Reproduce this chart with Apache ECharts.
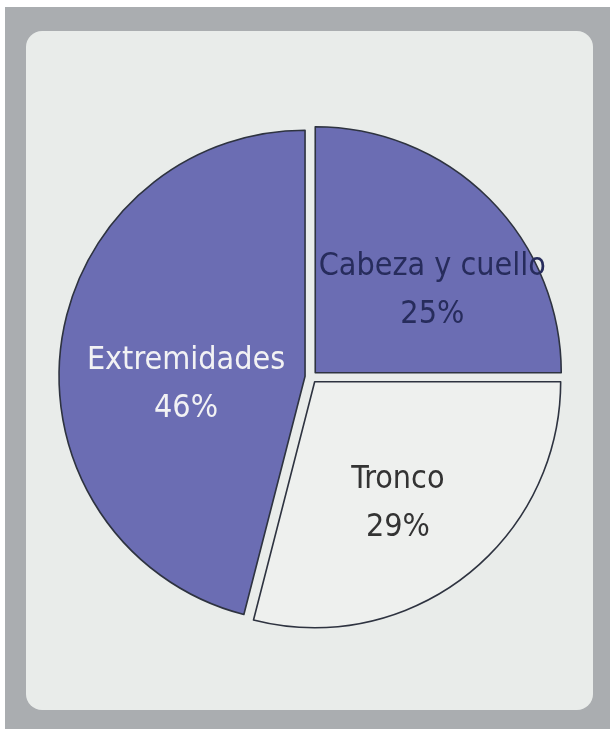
<!DOCTYPE html>
<html>
<head>
<meta charset="utf-8">
<script src="https://cdn.jsdelivr.net/npm/echarts@6/dist/echarts.min.js"></script>
<style>
html,body{margin:0;padding:0;background:#ffffff;}
#chart{width:610px;height:729px;}
</style>
</head>
<body>
<div id="chart"></div>
<script>
const categories = ['Cabeza y cuello', 'Tronco', 'Extremidades'];
const values = [25, 29, 46];
const sliceColors = ['#6b6db3', '#eef0ee', '#6b6db3'];
const labelColors = ['#272c5c', '#333333', '#f2f2f4'];
const labelShift = [[28, 7], [6, 22], [6, 24]];

const chart = echarts.init(document.getElementById('chart'), null, {renderer: 'canvas'});
const data = categories.map((c, i) => ({
  name: c,
  value: values[i],
  selected: true,
  itemStyle: {color: sliceColors[i]},
  label: {color: labelColors[i]}
}));

chart.setOption({
  animation: false,
  graphic: [
    {type: 'rect', z: -10, shape: {x: 5, y: 7, width: 605, height: 722}, style: {fill: '#aaadb0'}},
    {type: 'rect', z: -9, shape: {x: 26, y: 31, width: 567, height: 679, r: 16}, style: {fill: '#e9ecea'}}
  ],
  series: [{
    type: 'pie',
    center: [311, 377],
    radius: 246,
    startAngle: 90,
    clockwise: true,
    selectedMode: 'multiple',
    selectedOffset: 6,
    avoidLabelOverlap: false,
    minShowLabelAngle: 0,
    itemStyle: {borderColor: '#2e3340', borderWidth: 1.6},
    label: {
      show: true,
      position: 'inside',
      overflow: 'none',
      formatter: p => p.name + '\n' + p.value + '%',
      fontFamily: '"DejaVu Sans Condensed", "Liberation Sans Narrow", sans-serif',
      fontSize: 32,
      lineHeight: 48
    },
    labelLayout: p => ({dx: labelShift[p.dataIndex][0], dy: labelShift[p.dataIndex][1]}),
    labelLine: {show: false},
    emphasis: {disabled: true},
    data: data
  }]
});
</script>
</body>
</html>
